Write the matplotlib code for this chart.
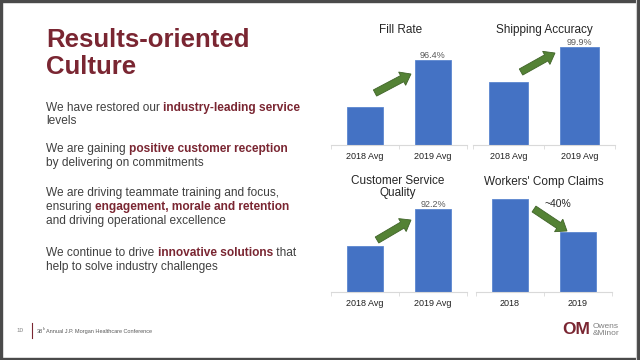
import matplotlib
matplotlib.use("Agg")
import matplotlib.pyplot as plt
from matplotlib.patches import FancyArrow, Rectangle

plt.rcParams['font.family'] = ['Liberation Sans', 'DejaVu Sans']

# данные панелей
fill_cats = ['2018 Avg', '2019 Avg']
fill_vals = [91.8, 96.4]
ship_cats = ['2018 Avg', '2019 Avg']
ship_vals = [99.58, 99.9]
csq_cats = ['2018 Avg', '2019 Avg']
csq_vals = [86.7, 92.2]
wc_cats = ['2018', '2019']
wc_vals = [100, 64]

fill_label = '96.4%'
ship_label = '99.9%'
csq_label = '92.2%'
wc_label = '~40%'

BLUE = '#4472C4'
MAROON = '#7A2632'
GRAY = '#404040'
GREEN = '#548235'

W, H = 640, 360
fig = plt.figure(figsize=(6.4, 3.6), dpi=100)
fig.patch.set_facecolor('white')


def px_axes(x0, x1, ybot, ytop):
    # оси в пиксельных координатах (y сверху вниз)
    return fig.add_axes([x0 / W, 1 - ybot / H, (x1 - x0) / W, (ybot - ytop) / H])


def bar_panel(ax, cats, vals, ylim, label=None):
    n = len(cats)
    ax.bar(range(n), vals, width=0.54, color=BLUE, edgecolor='#5B86D0', linewidth=0.6, zorder=2)
    ax.set_xlim(-0.5, n - 0.5)
    ax.set_ylim(*ylim)
    ax.set_xticks(range(n))
    ax.set_xticklabels(cats, fontsize=6.5, color='#202020')
    ax.set_xticks([i - 0.5 for i in range(n + 1)], minor=True)
    ax.tick_params(axis='x', which='major', length=0, pad=5)
    ax.tick_params(axis='x', which='minor', length=3, width=0.6, color='#D9D9D9')
    ax.set_yticks([])
    for s in ['top', 'right', 'left']:
        ax.spines[s].set_visible(False)
    ax.spines['bottom'].set_color('#D9D9D9')
    ax.spines['bottom'].set_linewidth(0.8)
    ax.patch.set_alpha(0)
    if label:
        ax.text(1, vals[1], label, ha='center', va='bottom', fontsize=6.5, color='#595959')


ax1 = px_axes(331, 467, 145, 50)
bar_panel(ax1, fill_cats, fill_vals, (88, 97.42), fill_label)
ax2 = px_axes(473, 615, 145, 40)
bar_panel(ax2, ship_cats, ship_vals, (99.0, 99.96), ship_label)
ax3 = px_axes(331, 467, 292, 200)
bar_panel(ax3, csq_cats, csq_vals, (80, 93.5), csq_label)
ax4 = px_axes(476, 612, 292, 195)
bar_panel(ax4, wc_cats, wc_vals, (0, 104.3))

# оверлей для текста, стрелок и рамки
ov = fig.add_axes([0, 0, 1, 1], zorder=5)
ov.set_xlim(0, W)
ov.set_ylim(H, 0)
ov.axis('off')
ov.patch.set_alpha(0)

# заголовки панелей
ov.text(401, 30, 'Fill Rate', ha='center', va='center', fontsize=8.5, color='#262626')
ov.text(544, 30, 'Shipping Accuracy', ha='center', va='center', fontsize=8.5, color='#262626')
ov.text(398, 187, 'Customer Service\nQuality', ha='center', va='center', fontsize=8.5,
        color='#262626', linespacing=1.05)
ov.text(544, 182, "Workers' Comp Claims", ha='center', va='center', fontsize=8.5, color='#262626')
ov.text(558, 204, wc_label, ha='center', va='center', fontsize=7.5, color='#262626')

# зелёные стрелки
for (x0, y0, x1, y1) in [(375, 93, 411, 74), (521, 72, 555, 53), (377, 240, 411, 220), (534, 209, 567, 231)]:
    ov.add_patch(FancyArrow(x0, y0, x1 - x0, y1 - y0, width=7, head_width=15, head_length=10,
                            length_includes_head=True, facecolor=GREEN, edgecolor='#3F6328', linewidth=0.6))

# заголовок слайда
ov.text(46, 40, 'Results-oriented', ha='left', va='center', fontsize=18.5, fontweight='bold', color=MAROON)
ov.text(46, 67, 'Culture', ha='left', va='center', fontsize=18.5, fontweight='bold', color=MAROON)

# абзацы с выделением
lines = [
    (108, [('We have restored our ', False), ('industry-leading service', True)]),
    (121, [('levels', False)]),
    (149, [('We are gaining ', False), ('positive customer reception', True)]),
    (163, [('by delivering on commitments', False)]),
    (193, [('We are driving teammate training and focus,', False)]),
    (207, [('ensuring ', False), ('engagement, morale and retention', True)]),
    (221, [('and driving operational excellence', False)]),
    (253, [('We continue to drive ', False), ('innovative solutions', True), (' that', False)]),
    (267, [('help to solve industry challenges', False)]),
]
fig.canvas.draw()
renderer = fig.canvas.get_renderer()
inv = ov.transData.inverted()
for y, segs in lines:
    x = 46
    for txt, bold in segs:
        t = ov.text(x, y, txt, ha='left', va='center', fontsize=8.6,
                    fontweight='bold' if bold else 'normal', color=MAROON if bold else GRAY)
        bb = t.get_window_extent(renderer)
        x = inv.transform((bb.x1, bb.y0))[0]

# подвал
ov.text(20, 331, '10', ha='center', va='center', fontsize=4.5, color='#7F7F7F')
ov.plot([31.5, 31.5], [323, 338], color=MAROON, lw=0.8)
ov.text(37, 331.5, '38', ha='left', va='center', fontsize=4, color='#595959')
ov.text(42.5, 329.5, 'th', ha='left', va='center', fontsize=2.5, color='#595959')
ov.text(46, 331.5, 'Annual J.P. Morgan Healthcare Conference', ha='left', va='center', fontsize=4,
        color='#595959')

# логотип
ov.text(576, 330, 'OM', ha='center', va='center', fontsize=12.5, fontweight='bold', color=MAROON)
ov.plot([562, 582], [331, 331], color='white', lw=0.6)
ov.text(593, 330, 'Owens\n&Minor', ha='left', va='center', fontsize=6, color='#7F7F7F', linespacing=0.95)

# рамка слайда
ov.add_patch(Rectangle((0, 0), W, 1.5, color='#4A4A4A', clip_on=False))
ov.add_patch(Rectangle((0, 0), 2, H, color='#4A4A4A', clip_on=False))
ov.add_patch(Rectangle((0, 358), W, 2, color='#4A4A4A', clip_on=False))
ov.add_patch(Rectangle((637, 0), 3, H, color='#4A4A4A', clip_on=False))
ov.plot([635.5, 635.5], [0, H], color='#D0D0D0', lw=0.8)

fig.savefig('out.png', dpi=100)
